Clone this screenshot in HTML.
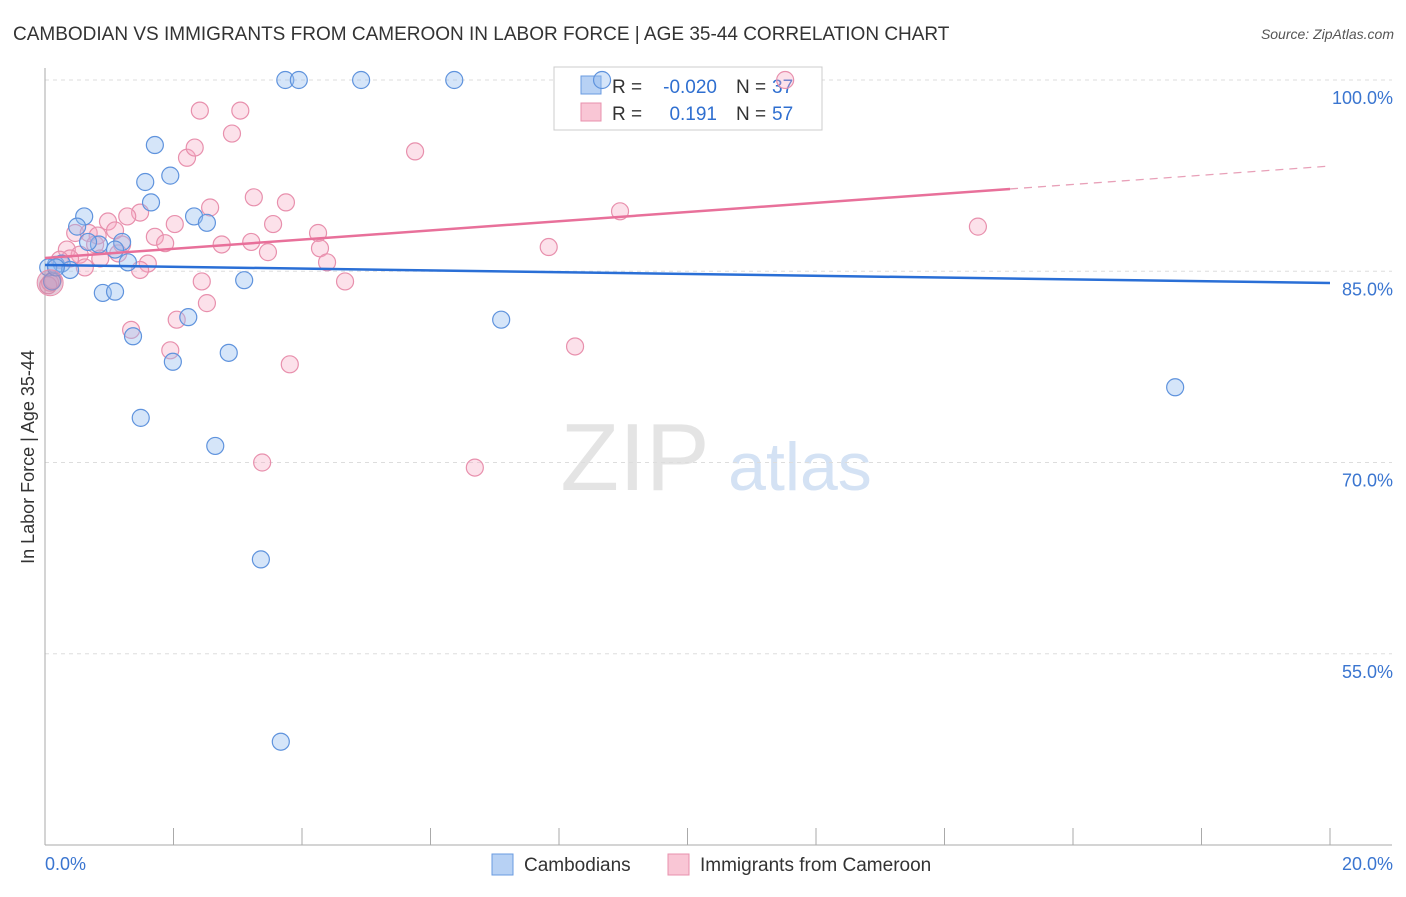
<!DOCTYPE html>
<html><head><meta charset="utf-8"><style>
body{margin:0;background:#fff;font-family:"Liberation Sans",sans-serif}
svg text{font-family:"Liberation Sans",sans-serif}
</style></head><body>
<svg id="c" width="1406" height="892" xmlns="http://www.w3.org/2000/svg">
<text x="13" y="40" font-size="19" fill="#333">CAMBODIAN VS IMMIGRANTS FROM CAMEROON IN LABOR FORCE | AGE 35-44 CORRELATION CHART</text>
<text x="1394" y="39" font-size="14" fill="#555" text-anchor="end" font-style="italic">Source: ZipAtlas.com</text>
<text x="635" y="490" font-size="96" fill="#e4e4e4" text-anchor="middle" font-family="Liberation Serif">ZIP</text>
<text x="800" y="490" font-size="68" fill="#d4e2f4" text-anchor="middle">atlas</text>
<g id="grid"></g><g id="axes"></g>
<g>
<rect x="554" y="67" width="268" height="63" fill="#fff" stroke="#ccc"/>
<rect x="581" y="76" width="20" height="18" fill="#b7d1f4" stroke="#6a9be0"/>
<rect x="581" y="103" width="20" height="18" fill="#f9c6d5" stroke="#e890ad"/>
<text x="612" y="93" font-size="19" fill="#333">R =</text>
<text x="717" y="93" font-size="19" fill="#2f6fd0" text-anchor="end">-0.020</text>
<text x="736" y="93" font-size="19" fill="#333">N =</text>
<text x="772" y="93" font-size="19" fill="#2f6fd0">37</text>
<text x="612" y="120" font-size="19" fill="#333">R =</text>
<text x="717" y="120" font-size="19" fill="#2f6fd0" text-anchor="end">0.191</text>
<text x="736" y="120" font-size="19" fill="#333">N =</text>
<text x="772" y="120" font-size="19" fill="#2f6fd0">57</text>
</g>
<g id="pts"></g><g id="lines"></g>
<text transform="translate(34,457) rotate(-90)" font-size="18" fill="#333" text-anchor="middle">In Labor Force | Age 35-44</text>
<g>
<rect x="492" y="854" width="21" height="21" fill="#b7d1f4" stroke="#6a9be0"/>
<text x="524" y="871" font-size="19" fill="#333">Cambodians</text>
<rect x="668" y="854" width="21" height="21" fill="#f9c6d5" stroke="#e890ad"/>
<text x="700" y="871" font-size="19" fill="#333">Immigrants from Cameroon</text>
</g>
</svg>
<script>
const blueX=[3.74,3.95,4.92,6.37,8.67,1.71,1.56,1.95,1.65,0.61,2.32,2.52,0.50,1.20,0.84,0.67,1.09,1.29,0.17,0.26,0.39,0.05,3.10,0.90,1.09,2.23,7.10,1.37,1.99,2.86,17.59,1.49,2.65,3.36,3.67,0.11,0.17];
const blueY=[100,100,100,100,100,94.9,92.0,92.5,90.4,89.3,89.3,88.8,88.5,87.3,87.1,87.3,86.7,85.7,85.5,85.6,85.1,85.3,84.3,83.3,83.4,81.4,81.2,79.9,77.9,78.6,75.9,73.5,71.3,62.4,48.1,84.2,85.3];
const pinkX=[2.41,3.04,2.91,2.21,2.33,5.76,3.25,3.75,2.57,8.95,1.48,1.28,2.02,0.98,3.55,14.52,0.47,0.68,4.25,1.71,1.87,2.75,3.21,0.78,7.84,0.34,1.20,4.28,3.47,1.14,0.54,1.60,4.39,0.62,1.48,2.44,4.67,2.52,1.34,2.05,1.95,8.25,3.81,3.38,6.69,0.08,0.12,0.39,0.86,0.23,11.52,0.05,1.09,0.82];
const pinkY=[97.6,97.6,95.8,93.9,94.7,94.4,90.8,90.4,90.0,89.7,89.6,89.3,88.7,88.9,88.7,88.5,88.0,88.0,88.0,87.7,87.2,87.1,87.3,87.1,86.9,86.7,87.1,86.8,86.5,86.4,86.3,85.6,85.7,85.3,85.1,84.2,84.2,82.5,80.4,81.2,78.8,79.1,77.7,70.0,69.6,84.1,84.3,86.0,86.0,85.9,100,83.9,88.2,87.8];
const yTicks=[100,85,70,55];
const yTickLabels=["100.0%","85.0%","70.0%","55.0%"];
const xTicks=[0,2,4,6,8,10,12,14,16,18,20];
const blueTrend=[85.49,84.08];
const pinkTrend=[86.04,93.25];
const pinkSolidEnd=15.02;
const X=v=>45+v*64.25, Y=v=>80+(100-v)*12.75;
const NS="http://www.w3.org/2000/svg";
function mk(p,t,a){const e=document.createElementNS(NS,t);for(const k in a)e.setAttribute(k,a[k]);document.getElementById(p).appendChild(e);return e;}
yTicks.forEach((v,i)=>{
 const l=mk('grid','line',{x1:45,x2:1392,y1:Y(v),y2:Y(v),stroke:'#ddd','stroke-dasharray':'4,4'});
 
 
 const t=mk('grid','text',{x:1393,y:Y(v)+24,'font-size':18,fill:'#3a75d0','text-anchor':'end'});
 t.textContent=yTickLabels[i];
 
 
});
mk('axes','line',{x1:45,x2:45,y1:68,y2:845,stroke:'#aaa'});
mk('axes','line',{x1:45,x2:1392,y1:845,y2:845,stroke:'#aaa'});
xTicks.forEach(v=>{const l=mk('axes','line',{x1:X(v),x2:X(v),y1:828,y2:845,stroke:'#aaa'});
 
 });
const t0=mk('axes','text',{x:45,y:870,'font-size':18,fill:'#3a75d0'});t0.textContent='0.0%';


const t1=mk('axes','text',{x:1393,y:870,'font-size':18,fill:'#3a75d0','text-anchor':'end'});t1.textContent='20.0%';


function dots(xs,ys,fill,stroke,name){xs.forEach((x,i)=>{
 const c=mk('pts','circle',{cx:X(x),cy:Y(ys[i]),r:8.5,fill:fill,stroke:stroke,'stroke-width':1.2});
 
 });}
dots(pinkX,pinkY,'rgba(245,170,195,0.35)','#e890ad','cameroon-point');
dots(blueX,blueY,'rgba(150,190,240,0.4)','#5f93dd','cambodian-point');
const big=mk('pts','circle',{cx:X(0.08),cy:Y(84.1),r:13,fill:'rgba(200,140,170,0.45)',stroke:'#e890ad'});


const bl=mk('lines','line',{x1:X(0),y1:Y(blueTrend[0]),x2:X(20),y2:Y(blueTrend[1]),stroke:'#2a6fd6','stroke-width':2.5});


const pe=pinkTrend[0]+(pinkTrend[1]-pinkTrend[0])*pinkSolidEnd/20;
const pl=mk('lines','line',{x1:X(0),y1:Y(pinkTrend[0]),x2:X(pinkSolidEnd),y2:Y(pe),stroke:'#e8709a','stroke-width':2.5});


const pd=mk('lines','line',{x1:X(pinkSolidEnd),y1:Y(pe),x2:X(20),y2:Y(pinkTrend[1]),stroke:'#e8a0b8','stroke-width':1.3,'stroke-dasharray':'8,6'});


</script>
</body></html>
